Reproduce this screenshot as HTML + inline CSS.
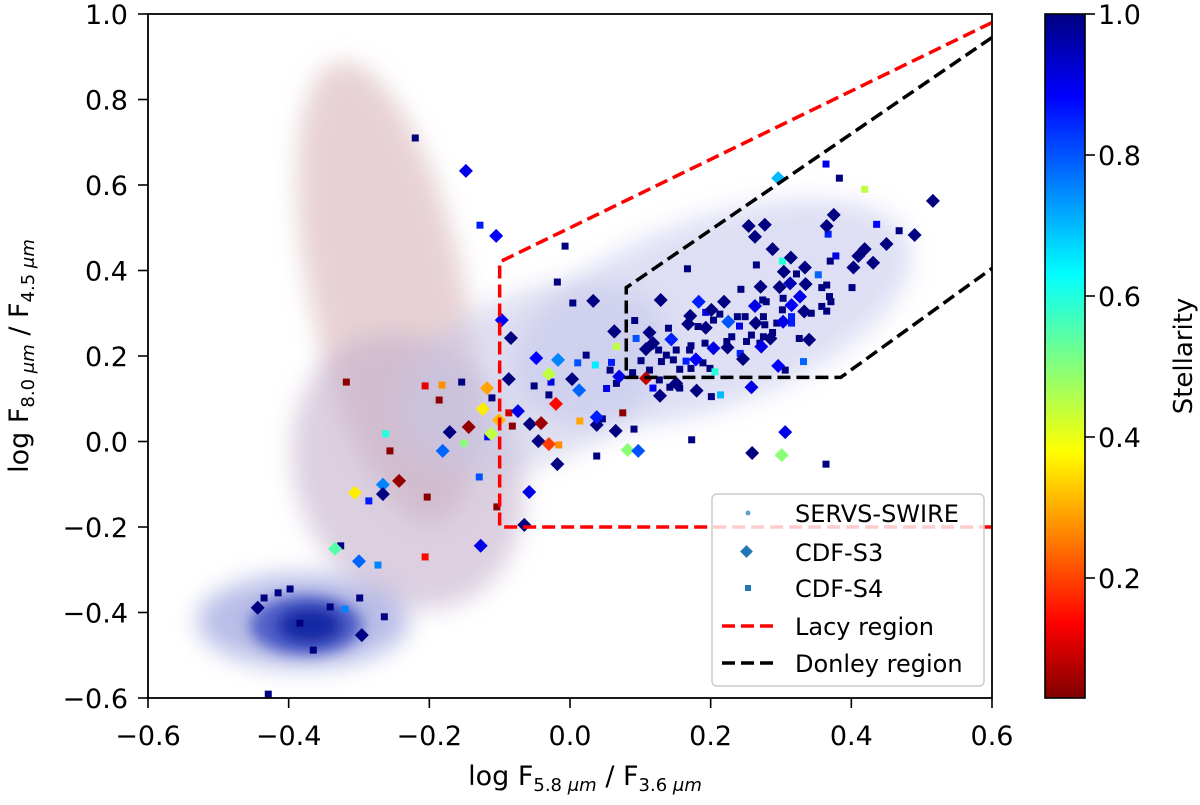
<!DOCTYPE html>
<html><head><meta charset="utf-8"><style>
body{margin:0;background:#fff;}
svg{display:block;font-family:"DejaVu Sans","Liberation Sans",sans-serif;}
</style></head><body>
<svg id="chart" width="1200" height="805" viewBox="0 0 1200 805">
<defs>
<clipPath id="plotclip"><rect x="148" y="14" width="844" height="684"/></clipPath>
<filter id="blur1" x="-50%" y="-50%" width="200%" height="200%"><feGaussianBlur stdDeviation="12"/></filter>
<filter id="blur2" x="-50%" y="-50%" width="200%" height="200%"><feGaussianBlur stdDeviation="7"/></filter>
<linearGradient id="jetgrad" x1="0" y1="1" x2="0" y2="0">
<stop offset="0" stop-color="#800000"/><stop offset="0.11" stop-color="#ff0000"/><stop offset="0.36" stop-color="#ffff00"/><stop offset="0.62" stop-color="#00ffff"/><stop offset="0.88" stop-color="#0000ff"/><stop offset="1" stop-color="#000080"/>
</linearGradient>
</defs>
<g id="cloud" clip-path="url(#plotclip)"></g>
<g id="marks" clip-path="url(#plotclip)"></g>
<g id="regions" clip-path="url(#plotclip)"></g>
<rect x="148" y="14" width="844" height="684" fill="none" stroke="#000" stroke-width="1.8"/>
<g id="xticks"></g>
<g id="yticks"></g>
<text x="585" y="785" font-size="27" text-anchor="middle">log F<tspan font-size="18" dy="6">5.8 <tspan font-style="italic">μm</tspan></tspan><tspan dy="-6"> / F</tspan><tspan font-size="18" dy="6">3.6 <tspan font-style="italic">μm</tspan></tspan></text>
<text transform="translate(28,356) rotate(-90)" font-size="27" text-anchor="middle">log F<tspan font-size="18" dy="6">8.0 <tspan font-style="italic">μm</tspan></tspan><tspan dy="-6"> / F</tspan><tspan font-size="18" dy="6">4.5 <tspan font-style="italic">μm</tspan></tspan></text>
<g>
<rect x="712" y="494" width="272" height="192" rx="5" fill="#fff" fill-opacity="0.8" stroke="#ccc" stroke-width="1.5"/>
<circle cx="748" cy="513" r="2.5" fill="#1f77b4" opacity="0.7"/>
<text x="795" y="522" font-size="24">SERVS-SWIRE</text>
<rect x="742" y="547" width="9" height="9" fill="#1f77b4" transform="rotate(45 746.5 551.5)"/>
<text x="795" y="561" font-size="24">CDF-S3</text>
<rect x="745" y="585" width="6" height="6" fill="#1f77b4"/>
<text x="795" y="597" font-size="24">CDF-S4</text>
<line x1="722" y1="626" x2="773" y2="626" stroke="#ff0000" stroke-width="3.5" stroke-dasharray="13,6"/>
<text x="795" y="635" font-size="24">Lacy region</text>
<line x1="722" y1="663" x2="773" y2="663" stroke="#000" stroke-width="3.5" stroke-dasharray="13,6"/>
<text x="795" y="672" font-size="24">Donley region</text>
</g>
<g>
<rect x="1045" y="14" width="40" height="684" fill="url(#jetgrad)" stroke="#000" stroke-width="1.6"/>
<g id="cbticks"></g>
<text transform="translate(1192,356) rotate(-90)" font-size="26" text-anchor="middle">Stellarity</text>
</g>
</svg>
<script>
const NS="http://www.w3.org/2000/svg";
const xTicks=[-0.6,-0.4,-0.2,0.0,0.2,0.4,0.6];
const xTickLabels=["−0.6","−0.4","−0.2","0.0","0.2","0.4","0.6"];
const yTicks=[-0.6,-0.4,-0.2,0.0,0.2,0.4,0.6,0.8,1.0];
const yTickLabels=["−0.6","−0.4","−0.2","0.0","0.2","0.4","0.6","0.8","1.0"];
const cbTicks=[0.2,0.4,0.6,0.8,1.0];
const cbTickLabels=["0.2","0.4","0.6","0.8","1.0"];
// CDF-S3 (diamonds)
const s3x=[-0.148,-0.105,0.033,-0.097,-0.084,0.063,-0.048,-0.017,-0.030,-0.087,0.003,0.013,-0.020,-0.118,-0.124,-0.101,-0.074,-0.057,-0.041,-0.144,-0.171,-0.112,-0.045,-0.030,-0.181,-0.018,0.038,0.038,0.065,0.082,0.097,-0.243,-0.266,-0.266,-0.306,-0.058,-0.065,-0.127,-0.334,-0.300,
0.296,0.516,0.375,0.254,0.277,0.263,0.365,0.490,0.450,0.419,0.410,0.431,0.403,0.288,0.314,0.304,0.334,0.313,0.335,0.271,0.298,0.129,0.183,0.219,0.327,0.315,0.263,0.333,0.171,0.201,0.225,0.264,0.303,0.168,0.193,0.063,0.113,0.144,0.118,0.108,0.204,0.224,0.285,0.272,0.340,0.246,0.179,0.296,0.070,0.108,0.151,0.180,0.258,0.128,0.306,0.301,0.259,-0.444,-0.296];
const s3y=[0.633,0.481,0.329,0.284,0.242,0.258,0.195,0.191,0.158,0.146,0.146,0.120,0.088,0.125,0.076,0.050,0.071,0.041,0.043,0.034,0.022,0.018,0.001,-0.006,-0.022,-0.053,0.039,0.057,0.025,-0.020,-0.022,-0.092,-0.101,-0.123,-0.120,-0.118,-0.195,-0.244,-0.251,-0.280,
0.616,0.563,0.530,0.504,0.507,0.479,0.504,0.483,0.462,0.450,0.434,0.418,0.407,0.450,0.430,0.397,0.407,0.370,0.368,0.362,0.361,0.331,0.327,0.327,0.339,0.319,0.317,0.304,0.294,0.308,0.280,0.277,0.280,0.275,0.266,0.257,0.255,0.239,0.230,0.216,0.218,0.220,0.241,0.222,0.238,0.193,0.192,0.177,0.152,0.148,0.136,0.119,0.127,0.107,0.022,-0.032,-0.027,-0.389,-0.453];
const s3s=[0.9,0.88,1,0.88,1,1,0.88,0.75,0.45,1,1,0.78,0.15,0.3,0.37,0.32,0.9,1,0.05,0.04,1,0.45,1,0.2,0.78,1,1,0.85,1,0.5,0.8,0.04,0.75,1,0.37,0.9,1,0.9,0.55,0.78,
0.7,1,1,1,1,1,1,1,1,1,1,1,1,1,1,1,1,0.95,1,1,1,1,0.85,1,0.9,0.88,0.9,1,1,1,0.8,1,0.9,1,1,1,1,0.85,1,1,0.9,1,1,0.9,1,1,0.88,0.88,0.9,0.08,1,1,0.9,1,0.9,0.5,1,1,1];
// CDF-S4 (squares)
const s4x=[-0.220,-0.128,-0.007,-0.018,0.004,0.011,0.036,0.023,-0.051,-0.027,-0.030,-0.206,-0.182,-0.154,-0.318,-0.186,-0.111,-0.087,-0.082,-0.262,-0.117,-0.151,-0.016,-0.256,0.046,0.014,0.075,0.091,0.038,-0.286,-0.203,-0.129,-0.104,-0.326,-0.273,-0.206,
0.364,0.383,0.419,0.367,0.436,0.468,0.302,0.378,0.370,0.167,0.265,0.322,0.353,0.401,0.243,0.358,0.365,0.274,0.303,0.369,0.371,0.358,0.365,0.279,0.343,0.302,0.193,0.213,0.238,0.249,0.275,0.277,0.294,0.315,0.315,0.092,0.182,0.140,0.204,0.241,0.094,0.126,0.137,0.151,0.172,0.170,0.230,0.223,0.251,0.258,0.275,0.288,0.270,0.326,0.242,0.192,0.101,0.130,0.165,0.147,0.156,0.172,0.199,0.189,0.332,0.306,0.059,0.066,0.113,0.127,0.142,0.156,0.118,0.214,0.201,0.052,0.089,0.206,0.066,0.057,0.364,0.173,
-0.435,-0.415,-0.398,-0.299,-0.320,-0.264,-0.365,-0.429,-0.384,-0.341];
const s4y=[0.710,0.506,0.457,0.373,0.324,0.184,0.179,0.202,0.130,0.139,0.109,0.130,0.132,0.139,0.139,0.097,0.102,0.067,0.036,0.018,0.011,-0.004,-0.008,-0.022,0.053,0.048,0.067,0.029,-0.034,-0.139,-0.130,-0.083,-0.153,-0.244,-0.289,-0.270,
0.649,0.616,0.590,0.485,0.508,0.493,0.422,0.434,0.422,0.404,0.413,0.392,0.390,0.360,0.356,0.360,0.366,0.331,0.335,0.339,0.327,0.316,0.305,0.327,0.300,0.308,0.302,0.298,0.292,0.292,0.292,0.273,0.277,0.292,0.277,0.283,0.269,0.265,0.284,0.270,0.241,0.214,0.202,0.214,0.224,0.214,0.245,0.234,0.234,0.249,0.245,0.255,0.230,0.241,0.206,0.230,0.189,0.187,0.188,0.191,0.169,0.171,0.171,0.184,0.187,0.167,0.185,0.136,0.167,0.144,0.127,0.125,0.125,0.109,0.105,0.124,0.161,0.163,0.222,0.167,-0.053,0.004,
-0.366,-0.354,-0.345,-0.366,-0.392,-0.410,-0.488,-0.591,-0.425,-0.387];
const s4s=[1,0.85,1,1,1,0.8,0.65,1,1,0.9,1,0.12,0.28,1,0.03,0.03,1,0.1,0.03,0.6,0.88,0.5,0.28,0.03,1,0.3,0.03,1,1,0.85,0.03,0.8,0.03,1,0.75,0.15,
0.9,1,0.45,0.85,0.88,1,0.6,0.9,1,1,1,1,0.78,1,1,1,1,1,1,1,1,1,1,1,1,1,0.9,1,1,1,1,1,1,0.85,0.85,1,1,1,1,0.9,0.8,1,1,1,1,1,1,1,1,1,1,1,1,1,0.85,1,1,1,0.85,1,1,1,1,1,0.78,1,0.85,1,1,1,1,1,0.88,0.7,1,0.9,1,0.6,0.45,1,1,1,
1,1,1,1,0.75,1,1,1,1,1];
// Lacy and Donley region vertices (data units)
const lacyX=[0.6,-0.1,-0.1,0.6];
const lacyY=[0.98,0.42,-0.2,-0.2];
const donleyX=[0.6,0.08,0.08,0.385,0.6];
const donleyY=[0.945,0.36,0.15,0.15,0.405];
// SERVS-SWIRE density components: centre x, centre y, half-width x, half-height y, tilt (deg), colour, opacity
const cloudCx=[-0.26,-0.23,-0.05,0.2,-0.38,-0.375,-0.37];
const cloudCy=[0.35,-0.07,0.15,0.3,-0.42,-0.43,-0.43];
const cloudRx=[0.11,0.16,0.2,0.3,0.15,0.08,0.045];
const cloudRy=[0.55,0.33,0.2,0.22,0.11,0.07,0.04];
const cloudRot=[-12,-20,-22,-20,0,0,0];
const cloudCol=["#d8b4b8","#c4b0cc","#c6c6e6","#c4c6ec","#8a92d8","#3848c0","#1020a0"];
const cloudOp=[0.6,0.6,0.55,0.55,0.6,0.8,0.9];

const X=v=>148+(v+0.6)*703.33, Y=v=>14+(1-v)*427.5;
const CB=v=>14+(1-v)*705;
function jet(s){const t=1-Math.max(0,Math.min(1,(s-0.02)/0.98));const c=k=>Math.round(255*Math.max(0,Math.min(1,1.5-Math.abs(4*t-k))));return `rgb(${c(3)},${c(2)},${c(1)})`;}
function mk(tag,attrs,parent){const e=document.createElementNS(NS,tag);for(const k in attrs)e.setAttribute(k,attrs[k]);parent.appendChild(e);return e;}

const cloud=document.getElementById('cloud');
for(let i=0;i<cloudCx.length;i++){
  const cx=X(cloudCx[i]),cy=Y(cloudCy[i]);
  const e=mk('ellipse',{cx:cx,cy:cy,rx:cloudRx[i]*703.33,ry:cloudRy[i]*427.5,fill:cloudCol[i],opacity:cloudOp[i],transform:`rotate(${cloudRot[i]} ${cx} ${cy})`,filter:i<5?'url(#blur1)':'url(#blur2)'},cloud);
  
  
}
const marks=document.getElementById('marks');
for(let i=0;i<s4x.length;i++){
  const e=mk('rect',{x:X(s4x[i])-3.5,y:Y(s4y[i])-3.5,width:7,height:7,fill:jet(s4s[i])},marks);
  
  
}
for(let i=0;i<s3x.length;i++){
  const cx=X(s3x[i]),cy=Y(s3y[i]);
  const e=mk('polygon',{points:`${cx},${cy-7} ${cx+7},${cy} ${cx},${cy+7} ${cx-7},${cy}`,fill:jet(s3s[i])},marks);
  
  
}
const reg=document.getElementById('regions');
const lp=mk('polyline',{points:lacyX.map((v,i)=>X(v)+','+Y(lacyY[i])).join(' '),fill:'none',stroke:'#ff0000','stroke-width':3.5,'stroke-dasharray':'13,6'},reg);


const dp=mk('polyline',{points:donleyX.map((v,i)=>X(v)+','+Y(donleyY[i])).join(' '),fill:'none',stroke:'#000','stroke-width':3.5,'stroke-dasharray':'13,6'},reg);



const xg=document.getElementById('xticks');
xTicks.forEach((v,i)=>{
  const l=mk('line',{x1:X(v),x2:X(v),y1:698,y2:708,stroke:'#000','stroke-width':1.6},xg);
  
  
  const t=mk('text',{x:X(v),y:745,'font-size':27,'text-anchor':'middle'},xg);t.textContent=xTickLabels[i];
  
  
});
const yg=document.getElementById('yticks');
yTicks.forEach((v,i)=>{
  const l=mk('line',{x1:138,x2:148,y1:Y(v),y2:Y(v),stroke:'#000','stroke-width':1.6},yg);
  
  
  const t=mk('text',{x:128,y:Y(v)+10,'font-size':27,'text-anchor':'end'},yg);t.textContent=yTickLabels[i];
  
  
});
const cg=document.getElementById('cbticks');
cbTicks.forEach((v,i)=>{
  const l=mk('line',{x1:1085,x2:1095,y1:CB(v),y2:CB(v),stroke:'#000','stroke-width':1.6},cg);
  
  
  const t=mk('text',{x:1098,y:CB(v)+10,'font-size':27},cg);t.textContent=cbTickLabels[i];
  
  
});
</script>
</body></html>
